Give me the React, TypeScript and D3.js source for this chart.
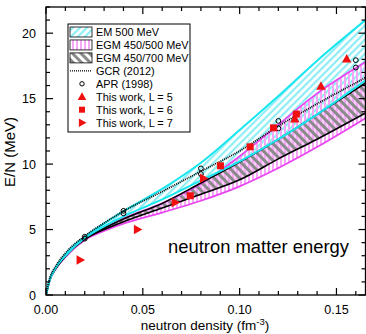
import React from "react";
import * as d3 from "d3";

// Neutron density grid (fm^-3) on which the band boundaries are tabulated
const densities = [0, 0.002, 0.005, 0.01, 0.02, 0.03, 0.04, 0.06, 0.08, 0.10, 0.12, 0.14, 0.165];

// EM 500 MeV band
const emUpper = [0, 1.2, 2.1, 3.1, 4.45, 5.45, 6.4, 8.1, 10.1, 12.6, 15.2, 17.9, 21.0];
const emLower = [0, 1.2, 2.1, 3.0, 4.35, 5.25, 6.0, 7.3, 8.75, 10.2, 11.9, 13.8, 16.4];
// EGM 450/500 MeV band
const egm500Upper = [0, 1.2, 2.05, 3.0, 4.3, 5.15, 5.85, 7.0, 8.5, 10.6, 13.0, 15.4, 17.8];
const egm500Lower = [0, 1.15, 2.0, 2.9, 4.2, 4.9, 5.45, 6.3, 7.2, 8.3, 9.7, 11.3, 13.5];
// EGM 450/700 MeV band
const egm700Upper = [0, 1.2, 2.05, 3.0, 4.3, 5.1, 5.8, 7.0, 8.55, 10.15, 11.9, 13.8, 16.2];
const egm700Lower = [0, 1.15, 2.0, 2.95, 4.25, 5.0, 5.6, 6.65, 7.7, 8.8, 10.4, 11.9, 13.9];
// GCR (2012) QMC curve
const gcr = [0, 1.3, 2.2, 3.2, 4.5, 5.5, 6.4, 7.9, 9.45, 11.0, 12.9, 14.6, 16.6];

// APR (1998) points
const aprDensity = [0.02, 0.04, 0.08, 0.12, 0.16];
const aprA = [4.45, 6.43, 9.67, 13.3, 17.94];
const aprB = [4.3, 6.24, 9.24, 12.73, 17.38];

// Lattice results
const l5Density = [0.1285, 0.142, 0.1553];
const l5Energy = [13.44, 15.95, 18.02];
const l6Density = [0.0745, 0.0901, 0.1054, 0.1175, 0.1293];
const l6Energy = [7.58, 9.87, 11.32, 12.77, 13.82];
const l7Density = [0.0176, 0.0472, 0.0667, 0.0813];
const l7Energy = [2.67, 5.01, 7.07, 8.91];

const xTicks = [0, 0.05, 0.1, 0.15];
const yTicks = [0, 5, 10, 15, 20];

const legendLabels = [
  "EM 500 MeV",
  "EGM 450/500 MeV",
  "EGM 450/700 MeV",
  "GCR (2012)",
  "APR (1998)",
  "This work, L = 5",
  "This work, L = 6",
  "This work, L = 7",
];

const W = 366;
const H = 334;
const M = { left: 46, right: 365.5, top: 7, bottom: 295 };
const FONT = "'Liberation Sans', Arial, Helvetica, sans-serif";

const CYAN = "#19e6ef";
const CYAN_HATCH = "#8eeef5";
const MAG = "#e846ef";
const MAG_HATCH = "#f6a8f6";
const GREY_HATCH = "#8a8a8a";
const RED = "#f01010";

export default function App() {
  const x = d3.scaleLinear().domain([0, 0.165]).range([M.left, M.right]);
  const y = d3.scaleLinear().domain([0, 22]).range([M.bottom, M.top]);

  const band = (lo: number[], hi: number[]) =>
    d3
      .area<number>()
      .x((_, i) => x(densities[i]))
      .y0((_, i) => y(lo[i]))
      .y1((_, i) => y(hi[i]))
      .curve(d3.curveMonotoneX)(densities) || "";

  const line = (vals: number[]) =>
    d3
      .line<number>()
      .x((_, i) => x(densities[i]))
      .y((_, i) => y(vals[i]))
      .curve(d3.curveMonotoneX)(densities) || "";

  const tri = (cx: number, cy: number, s: number) =>
    `M${cx},${cy - s} L${cx + s * 0.95},${cy + s * 0.7} L${cx - s * 0.95},${cy + s * 0.7} Z`;
  const triR = (cx: number, cy: number, s: number) =>
    `M${cx + s},${cy} L${cx - s * 0.7},${cy + s * 0.95} L${cx - s * 0.7},${cy - s * 0.95} Z`;

  const xMinor = d3.range(0, 0.1651, 0.01);
  const yMinor = d3.range(0, 22.01, 1);

  const legX = 68;
  const legY = 24;
  const rowH = 12.95;
  const rowY = (i: number) => legY + 8 + i * rowH;

  return (
    <svg
      width={W}
      height={H}
      style={{ position: "fixed", left: 0, top: 0, background: "#fff" }}
      fontFamily={FONT}
    >
      <defs>
        <clipPath id="plot">
          <rect x={M.left} y={M.top} width={M.right - M.left} height={M.bottom - M.top} />
        </clipPath>
        <pattern id="hatchEM" patternUnits="userSpaceOnUse" width="5" height="5" patternTransform="rotate(45)">
          <rect x="0" y="0" width="2.2" height="5" fill={CYAN_HATCH} />
        </pattern>
        <pattern id="hatchEGM500" patternUnits="userSpaceOnUse" width="4" height="4">
          <rect x="0" y="0" width="2" height="4" fill={MAG_HATCH} />
        </pattern>
        <pattern id="hatchEGM700" patternUnits="userSpaceOnUse" width="6" height="6" patternTransform="rotate(-45)">
          <rect x="0" y="0" width="3" height="6" fill={GREY_HATCH} />
        </pattern>
      </defs>

      <g clipPath="url(#plot)">
        <path d={band(emLower, emUpper)} fill="url(#hatchEM)" />
        <path d={band(egm500Lower, egm500Upper)} fill="url(#hatchEGM500)" />
        <path d={band(egm700Lower, egm700Upper)} fill={MAG_HATCH} opacity={0.55} />
        <path d={band(egm700Lower, egm700Upper)} fill="url(#hatchEGM700)" />

        <path d={line(egm500Lower)} fill="none" stroke={MAG} strokeWidth={1.8} />
        <path d={line(egm500Upper)} fill="none" stroke={MAG} strokeWidth={1.8} />
        <path d={line(egm700Lower)} fill="none" stroke="#000" strokeWidth={1.6} />
        <path d={line(egm700Upper)} fill="none" stroke="#000" strokeWidth={1.6} />
        <path d={line(emLower)} fill="none" stroke={CYAN} strokeWidth={2} />
        <path d={line(emUpper)} fill="none" stroke={CYAN} strokeWidth={2} />
        <path d={line(gcr)} fill="none" stroke="#000" strokeWidth={1.8} strokeDasharray="1,1" />

        {aprDensity.map((d, i) => (
          <g key={"apr" + i}>
            <circle cx={x(d)} cy={y(aprA[i])} r={2.4} fill="none" stroke="#000" strokeWidth={1} />
            <circle cx={x(d)} cy={y(aprB[i])} r={2.4} fill="none" stroke="#000" strokeWidth={1} />
          </g>
        ))}
        {l5Density.map((d, i) => (
          <path key={"l5" + i} d={tri(x(d), y(l5Energy[i]), 5)} fill={RED} />
        ))}
        {l6Density.map((d, i) => (
          <rect key={"l6" + i} x={x(d) - 3.5} y={y(l6Energy[i]) - 3.5} width={7} height={7} fill={RED} />
        ))}
        {l7Density.map((d, i) => (
          <path key={"l7" + i} d={triR(x(d), y(l7Energy[i]), 5)} fill={RED} />
        ))}
      </g>

      {/* frame */}
      <rect
        x={M.left}
        y={M.top}
        width={M.right - M.left}
        height={M.bottom - M.top}
        fill="none"
        stroke="#000"
        strokeWidth={1.3}
      />

      {/* ticks, inward on all four sides */}
      {xMinor.map((v, i) => {
        const major = Math.abs(v / 0.05 - Math.round(v / 0.05)) < 1e-6;
        const len = major ? 7 : 4;
        return (
          <g key={"xt" + i} stroke="#000" strokeWidth={1.2}>
            <line x1={x(v)} x2={x(v)} y1={M.bottom} y2={M.bottom - len} />
            <line x1={x(v)} x2={x(v)} y1={M.top} y2={M.top + len} />
          </g>
        );
      })}
      {yMinor.map((v, i) => {
        const major = v % 5 === 0;
        const len = major ? 7 : 4;
        return (
          <g key={"yt" + i} stroke="#000" strokeWidth={1.2}>
            <line x1={M.left} x2={M.left + len} y1={y(v)} y2={y(v)} />
            <line x1={M.right} x2={M.right - len} y1={y(v)} y2={y(v)} />
          </g>
        );
      })}

      {xTicks.map((v) => (
        <text key={"xl" + v} x={x(v)} y={314} fontSize={12.5} textAnchor="middle" fill="#000">
          {d3.format(".2f")(v)}
        </text>
      ))}
      {yTicks.map((v) => (
        <text key={"yl" + v} x={36} y={y(v) + 4.5} fontSize={12.5} textAnchor="end" fill="#000">
          {v}
        </text>
      ))}

      <text x={205} y={330} fontSize={13.5} textAnchor="middle" fill="#000">
        neutron density (fm
        <tspan dy={-5} fontSize={9.5}>-3</tspan>
        <tspan dy={5}>)</tspan>
      </text>
      <text
        transform={`translate(14.5,${152}) rotate(-90)`}
        fontSize={15}
        textAnchor="middle"
        fill="#000"
      >
        E/N (MeV)
      </text>

      <text x={168} y={253} fontSize={18.4} fill="#000">
        neutron matter energy
      </text>

      {/* legend */}
      <rect x={legX} y={legY} width={122} height={108} fill="#fff" stroke="#000" strokeWidth={1} />
      <rect x={70} y={rowY(0) - 5} width={22} height={10} fill="url(#hatchEM)" stroke="#000" strokeWidth={0.8} />
      <rect x={70} y={rowY(1) - 5} width={22} height={10} fill="url(#hatchEGM500)" stroke="#000" strokeWidth={0.8} />
      <rect x={70} y={rowY(2) - 5} width={22} height={10} fill="url(#hatchEGM700)" stroke="#000" strokeWidth={0.8} />
      <line x1={70} x2={92} y1={rowY(3)} y2={rowY(3)} stroke="#000" strokeWidth={1.2} strokeDasharray="1,1" />
      <circle cx={82} cy={rowY(4)} r={2.2} fill="none" stroke="#000" strokeWidth={1} />
      <path d={tri(82, rowY(5), 4.5)} fill={RED} />
      <rect x={79} y={rowY(6) - 3} width={6} height={6} fill={RED} />
      <path d={triR(82, rowY(7), 4.5)} fill={RED} />
      {legendLabels.map((t, i) => (
        <text key={t} x={96} y={rowY(i) + 4} fontSize={10.9} fill="#000">
          {t}
        </text>
      ))}
    </svg>
  );
}
